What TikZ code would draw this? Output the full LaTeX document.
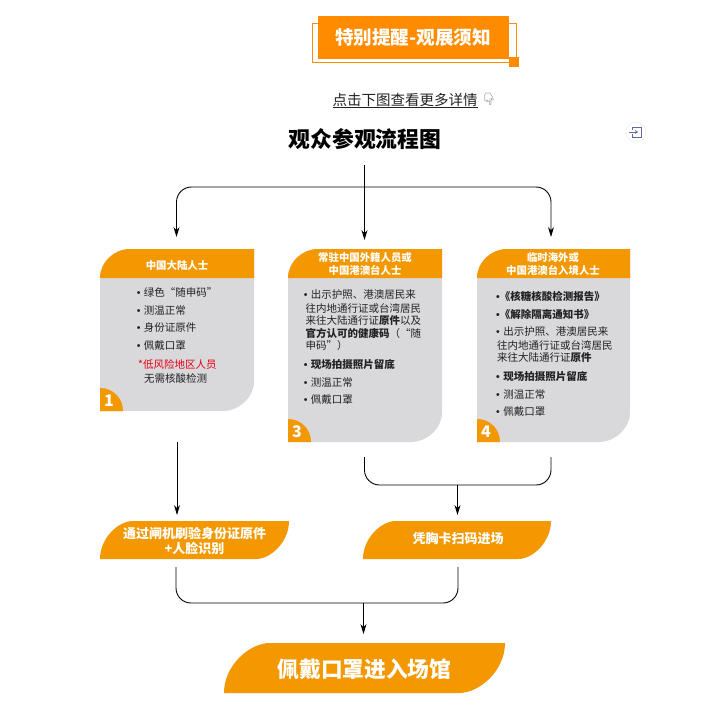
\documentclass[tikz,border=0pt]{standalone}
\usepackage{fontspec}
\setmainfont{Noto Sans CJK SC}
\newfontfamily\emojifont{Noto Emoji}
\newfontfamily\bulfont{Liberation Sans}
\newcommand{\bu}{{\bulfont\char"2022}}
\usetikzlibrary{arrows.meta,calc}
\definecolor{org}{HTML}{F39800}
\definecolor{brt}{HTML}{FF8C00}
\definecolor{gry}{HTML}{D9D9DC}
\definecolor{ink}{HTML}{222222}
\definecolor{red1}{HTML}{E60012}
\definecolor{slate}{HTML}{5F6E9F}
\newcommand{\fsz}[1]{\fontsize{#1}{#1}\selectfont}
% leaf shape: x1 y1 x2 y2 rx ry style
\newcommand{\leafshape}[7]{\fill[#7] (#1,#4) -- (#1,{#2+#6})
  .. controls (#1,{#2+0.45*#6}) and ({#1+0.55*#5},#2) .. ({#1+#5},#2)
  -- (#3,#2) -- (#3,{#4-#6})
  .. controls (#3,{#4-0.45*#6}) and ({#3-0.55*#5},#4) .. ({#3-#5},#4) -- cycle;}
\newcommand{\cardshape}[4]{%
  \leafshape{#1}{249}{#2}{#3}{30}{29}{gry}
  \fill[org] (#1,278) .. controls (#1,262) and ({#1+14},249) .. ({#1+30},249) -- (#2,249) -- (#2,278) -- cycle;
  \fill[org] (#1,{#3-23}) .. controls ({#1+13},{#3-23}) and ({#1+23},{#3-13}) .. ({#1+23},#3) -- (#1,#3) -- cycle;
  \node[numtxt] (n#4) at ({#1+9},{#3-10}) {#4};
}
\tikzset{
  x=1pt,y=-1pt,
  arr/.style={draw=black,line width=.9pt,-{Stealth[length=10pt,width=6pt]}},
  lin/.style={draw=black,line width=.9pt},
  hole/.style={inner sep=0pt,outer sep=0pt},
  ln/.style={anchor=west,inner sep=0pt,text=ink,font=\fsz{10.5}},
  lnb/.style={ln,font=\fsz{10.5}\bfseries},
  hd/.style={inner sep=0pt,text=white,font=\fsz{10.4}\bfseries,align=center},
  bartxt/.style={inner sep=0pt,text=white,font=\fsz{13}\bfseries,align=center},
  numtxt/.style={inner sep=0pt,text=white,font=\fsz{16}\bfseries},
}
\begin{document}
\begin{tikzpicture}
\useasboundingbox (0,0) rectangle (710,710);
\fill[white] (0,0) rectangle (710,710);

% top banner
\draw[brt,line width=.9pt] (312.5,23.5) rectangle (516.5,62);
\fill[brt] (318,16) rectangle (509,59);
\fill[brt] (509,57) rectangle (519,67);
\node[inner sep=0pt,text=white,font=\fsz{18.6}\bfseries] (banner) at (413,38) {特别提醒-观展须知};

% link line
\node[inner sep=0pt,text=ink,font=\fsz{14.5}] (link) at (405,100) {点击下图查看更多详情};
\draw[ink,line width=.9pt] (332.5,107) -- (478,107);
\node[inner sep=0pt,text=gray,font=\fsz{12}\emojifont] (hand) at (489,99.5) {👇};

% side icon
\fill[white] (636,132) circle (10);
\draw[gray!15,line width=.5pt] (636,132) circle (10);
\draw[slate,line width=.9pt] (632,130) -- (632,127) -- (641,127) -- (641,137) -- (632,137) -- (632,134);
\draw[slate,line width=.9pt,-{Stealth[length=3pt,width=4pt]}] (629,132) -- (638,132);

% title
\node[inner sep=0pt,text=black,font=\fsz{21.8}\bfseries] (title) at (365,139) {观众参观流程图};

% cards
\cardshape{100}{254}{411}{1}
\cardshape{288}{442}{442}{3}
\cardshape{477}{630}{442}{4}
\node[hole,minimum width=154pt,minimum height=162pt] (c1) at (177,330) {};
\node[hole,minimum width=154pt,minimum height=193pt] (c3) at (365,345.5) {};
\node[hole,minimum width=153pt,minimum height=193pt] (c4) at (553.5,345.5) {};

% card headers
\node[hd] (h1) at (177,265.5) {中国大陆人士};
\node[hd] (h3a) at (365,258) {常驻中国外籍人员或};
\node[hd] (h3b) at (365,270.5) {中国港澳台人士};
\node[hd] (h4a) at (553,258) {临时海外或};
\node[hd] (h4b) at (553,270.5) {中国港澳台入境人士};

% card 1
\node[ln] (a1) at (136.6,292) {\bu\,\,绿色“随申码”};
\node[ln] (a2) at (136.6,310) {\bu\,\,测温正常};
\node[ln] (a3) at (136.6,328) {\bu\,\,身份证原件};
\node[ln] (a4) at (136.6,346) {\bu\,\,佩戴口罩};
\node[ln,text=red1] (a5) at (138,364) {*低风险地区人员};
\node[ln] (a6) at (144,378) {无需核酸检测};

% card 3
\node[ln] (b1) at (303.6,295) {\bu\,\,出示护照、港澳居民来};
\node[ln] (b2) at (305.5,308) {往内地通行证或台湾居民};
\node[ln] (b3) at (305.5,320.5) {来往大陆通行证\textbf{原件}以及};
\node[ln] (b4) at (305.5,333) {\textbf{官方认可的健康码}（“随};
\node[ln] (b5) at (305.5,346) {申码”）};
\node[lnb] (b6) at (303.6,364) {\bu\,\,现场拍摄照片留底};
\node[ln] (b7) at (303.6,382) {\bu\,\,测温正常};
\node[ln] (b8) at (303.6,400) {\bu\,\,佩戴口罩};

% card 4
\node[lnb] (d1) at (496,296) {\bu《核糖核酸检测报告》};
\node[lnb] (d2) at (496,314) {\bu《解除隔离通知书》};
\node[ln] (d3) at (496,332) {\bu\,\,出示护照、港澳居民来};
\node[ln] (d4) at (497,345) {往内地通行证或台湾居民};
\node[ln] (d5) at (497,357.5) {来往大陆通行证\textbf{原件}};
\node[lnb] (d6) at (496,376) {\bu\,\,现场拍摄照片留底};
\node[ln] (d7) at (496,394) {\bu\,\,测温正常};
\node[ln] (d8) at (496,412) {\bu\,\,佩戴口罩};

% bars
\leafshape{100}{521}{289}{559}{33}{38}{org}
\leafshape{363}{521}{551}{559}{33}{38}{org}
\leafshape{224}{643}{505}{693}{46}{50}{org}
\node[bartxt] (barA1) at (194.5,534) {通过闸机刷验身份证原件};
\node[bartxt] (barA2) at (194.5,548) {+人脸识别};
\node[bartxt] (barB) at (458,539) {凭胸卡扫码进场};
\node[inner sep=0pt,text=white,font=\fsz{21.7}\bfseries] (barC) at (364.5,669) {佩戴口罩进入场馆};
\node[hole,minimum width=189pt,minimum height=38pt] (A) at (194.5,540) {};
\node[hole,minimum width=188pt,minimum height=38pt] (B) at (457,540) {};
\node[hole,minimum width=281pt,minimum height=50pt] (C) at (364.5,668) {};

% connector ends
\coordinate (top) at (364.5,165);
\coordinate (hub) at (364.5,187);
\coordinate (e1) at (176.5,237);
\coordinate (e3) at (364.5,240);
\coordinate (e4) at (551,237);
\coordinate (s1) at (177,442);
\coordinate (eA) at (177,515);
\coordinate (s3) at (364.5,457);
\coordinate (s4) at (551,457);
\coordinate (j1) at (457.5,485);
\coordinate (eB) at (457.5,515);
\coordinate (sA) at (176,567);
\coordinate (sB) at (458,567);
\coordinate (j2) at (363.5,603);
\coordinate (eC) at (363.5,634);

% connectors
\draw[arr] (top) -- (e3);
\draw[arr,rounded corners=15pt] (hub) -| (e1);
\draw[arr,rounded corners=15pt] (hub) -| (e4);
\draw[arr] (s1) -- (eA);
\draw[lin,rounded corners=15pt] (s3) |- (j1) -| (s4);
\draw[arr] (j1) -- (eB);
\draw[lin,rounded corners=15pt] (sA) |- (j2) -| (sB);
\draw[arr] (j2) -- (eC);
\end{tikzpicture}
\end{document}
